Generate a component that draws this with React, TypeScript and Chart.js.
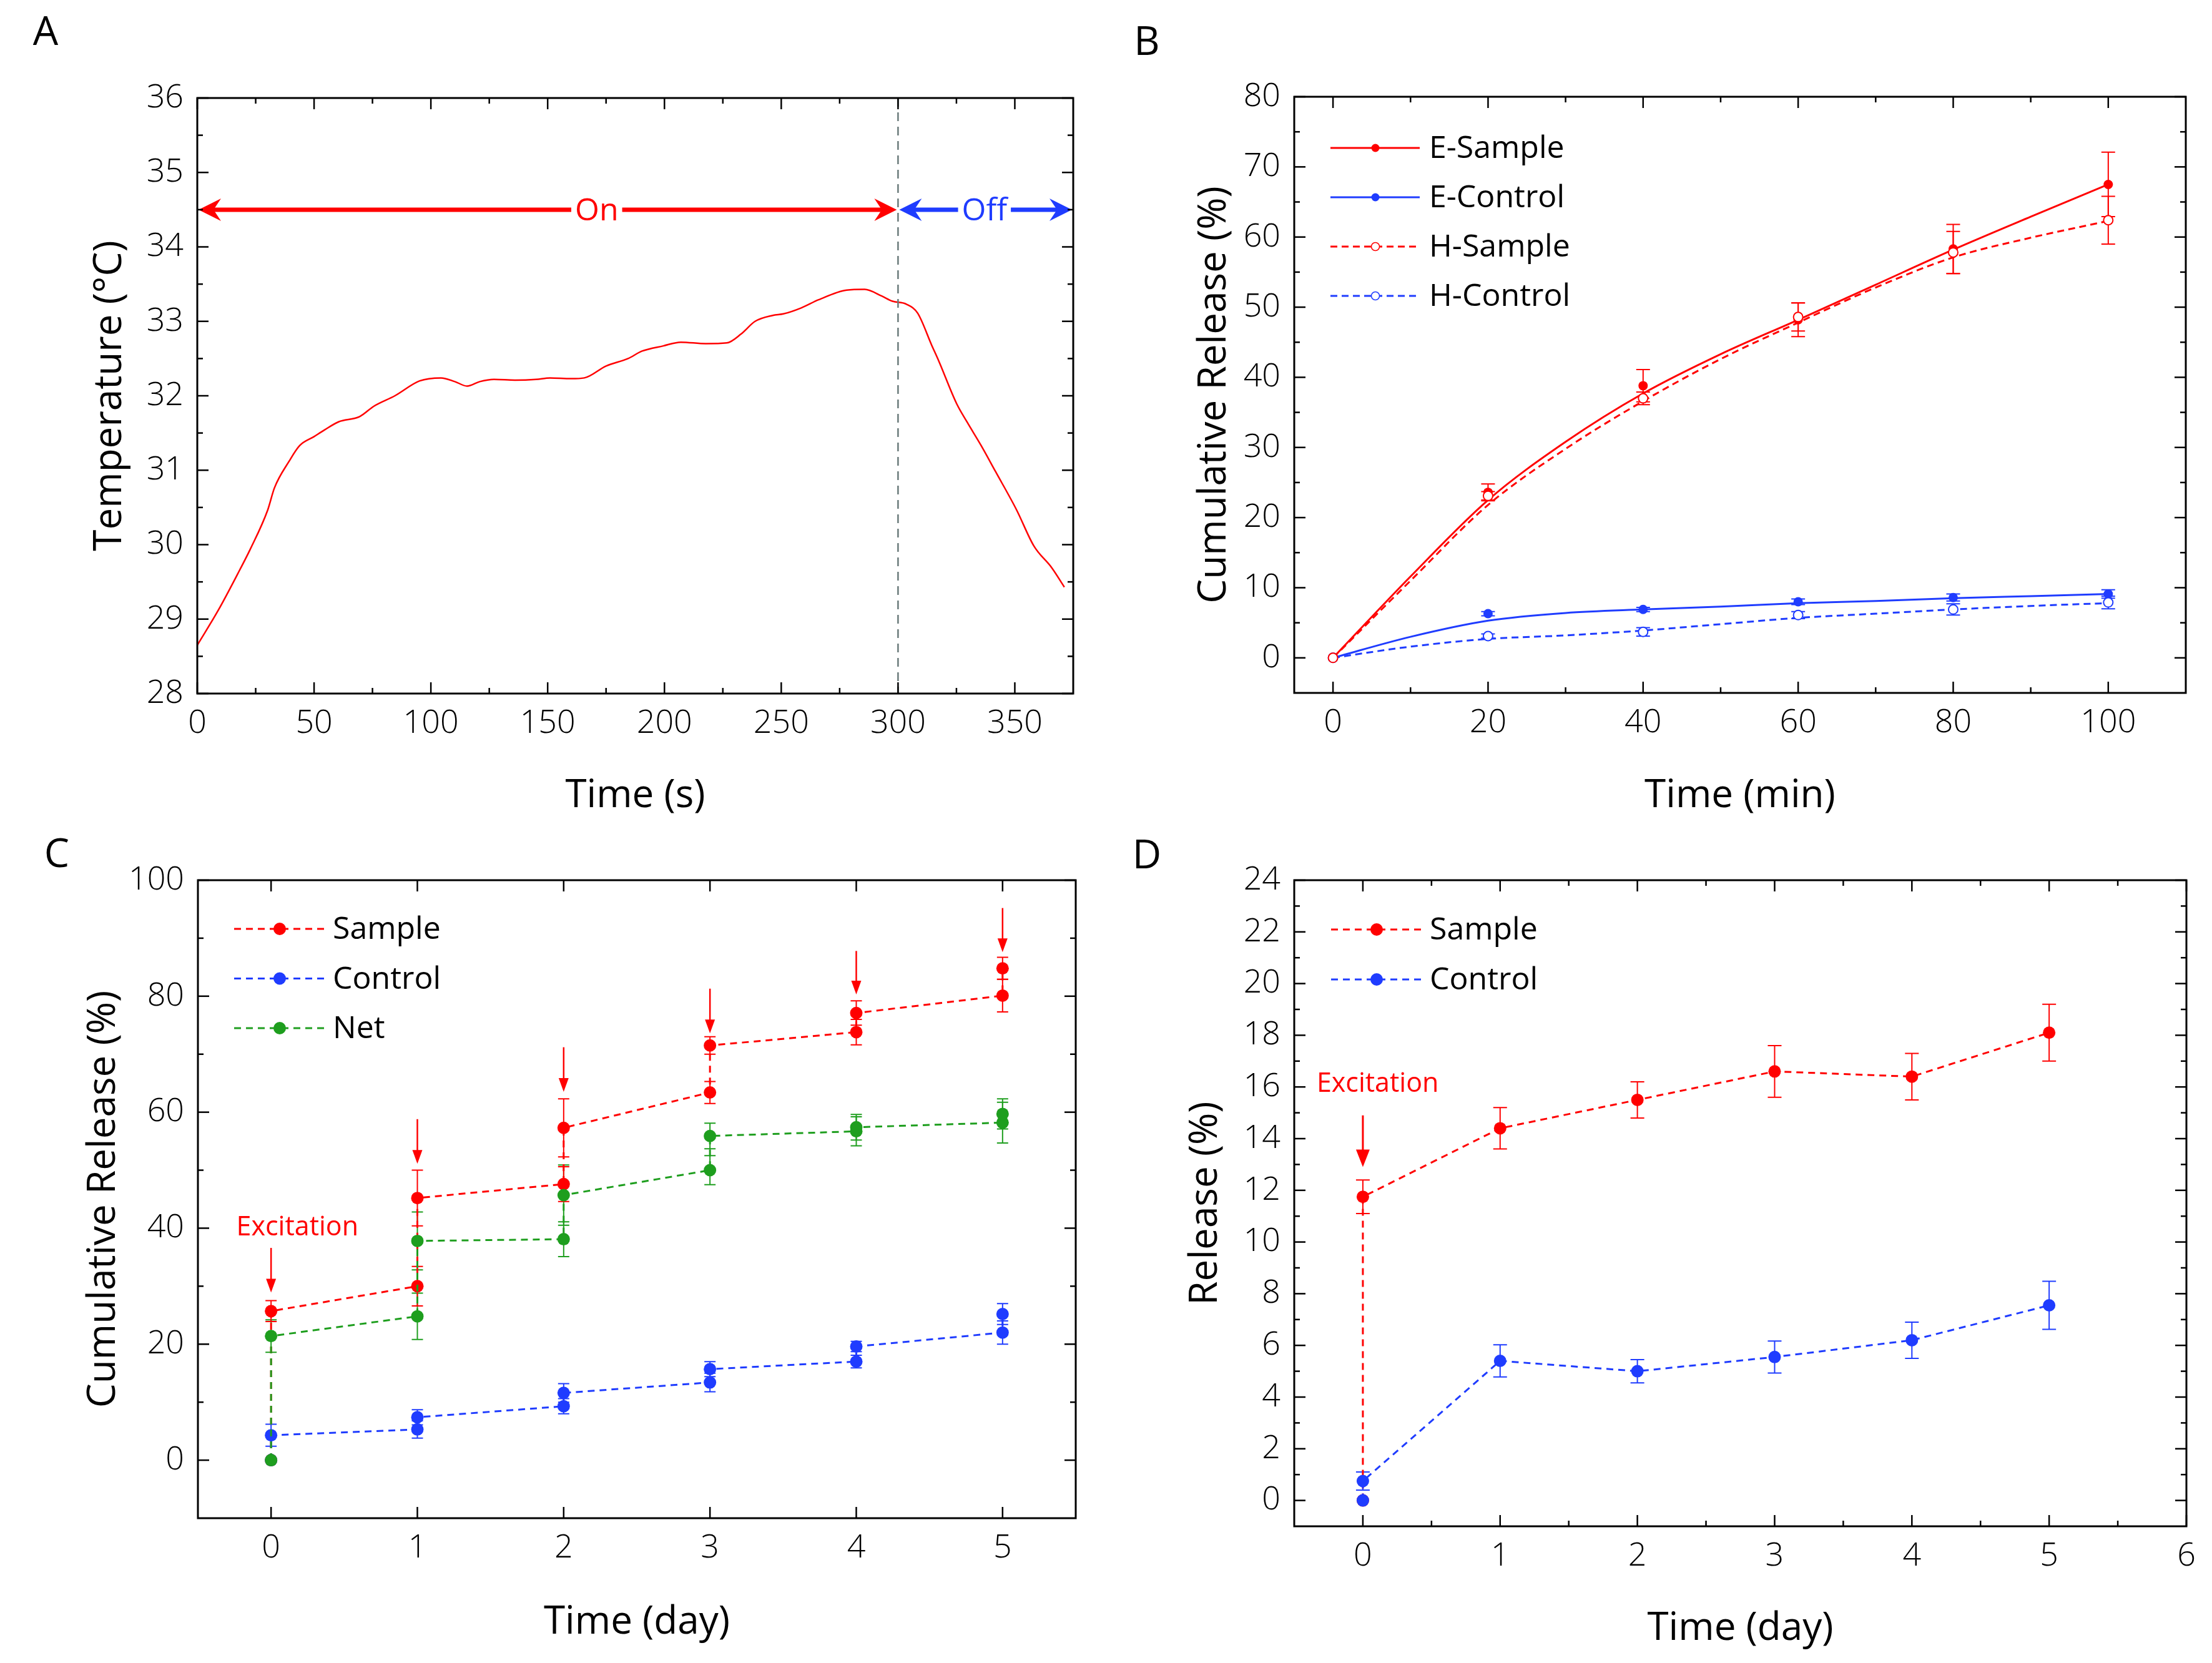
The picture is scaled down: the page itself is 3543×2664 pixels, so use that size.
import React, { useEffect, useRef } from 'react';
import { Chart, registerables } from 'chart.js';

Chart.register(...registerables);

// ================= Panel A : temperature profile =================
const timeA = [0, 9, 18, 22.7, 30.2, 33, 39.3, 43.8, 49.9, 54.4, 60.5, 69.5, 75.6, 84.6, 95.2, 104.3, 110.3, 115.5, 120.9, 127, 136, 145, 151, 160, 165.7, 175, 184.4, 190.4, 199.5, 207, 217.7, 226.7, 232.8, 238.8, 246.4, 250.9, 258.5, 266, 278, 285.7, 293, 297.6, 303.6, 308.4, 314.4, 317.4, 325, 329.5, 335.6, 341.6, 350.7, 358.2, 365.8, 371.2];
const tempA = [28.65, 29.12, 29.65, 29.94, 30.47, 30.76, 31.12, 31.33, 31.45, 31.54, 31.65, 31.72, 31.86, 32.0, 32.2, 32.24, 32.19, 32.13, 32.19, 32.22, 32.21, 32.22, 32.24, 32.23, 32.24, 32.4, 32.5, 32.6, 32.67, 32.72, 32.7, 32.71, 32.83, 33.0, 33.08, 33.1, 33.18, 33.29, 33.42, 33.43, 33.34, 33.27, 33.23, 33.11, 32.68, 32.47, 31.9, 31.65, 31.33, 30.99, 30.47, 29.98, 29.69, 29.43];
const switchTimeA = 300;
const endTimeA = 375;
const arrowLevelA = 34.5;
const onLabelTimeA = 171;
const offLabelTimeA = 337;
const xTicksA = [0, 50, 100, 150, 200, 250, 300, 350];
const yTicksA = [28, 29, 30, 31, 32, 33, 34, 35, 36];

// ================= Panel B : release in minutes =================
const timeB = [0, 20, 40, 60, 80, 100];
const eSampleB = [0, 23.6, 38.8, 48.2, 58.3, 67.5];
const eSampleErrB = [0, 1.2, 2.3, 2.4, 3.5, 4.6];
const eControlB = [0, 6.3, 6.9, 8.0, 8.6, 9.1];
const eControlErrB = [0, 0.3, 0.3, 0.4, 0.5, 0.6];
const hSampleB = [0, 23.1, 37.0, 48.6, 57.8, 62.4];
const hSampleErrB = [0, 0.6, 0.9, 2.0, 3.0, 3.4];
const hControlB = [0, 3.1, 3.7, 6.1, 6.9, 7.9];
const hControlErrB = [0, 0.3, 0.6, 0.5, 0.8, 0.9];
const fitTimeB = [0, 10, 20, 30, 40, 50, 60, 70, 80, 90, 100];
const eSampleFitB = [0, 11.6, 22.5, 30.8, 37.7, 43.3, 48.2, 53.2, 58.2, 62.9, 67.5];
const hSampleFitB = [0, 11.0, 21.8, 29.8, 36.6, 42.6, 47.8, 52.8, 57.1, 59.9, 62.3];
const eControlFitB = [0, 3.0, 5.3, 6.4, 6.9, 7.3, 7.8, 8.1, 8.5, 8.8, 9.1];
const hControlFitB = [0, 1.6, 2.7, 3.2, 3.9, 4.8, 5.7, 6.3, 6.9, 7.4, 7.8];
const xTicksB = [0, 20, 40, 60, 80, 100];
const yTicksB = [0, 10, 20, 30, 40, 50, 60, 70, 80];

// ================= Panel C : cumulative release per day =================
const dayC = [0, 0, 1, 1, 2, 2, 3, 3, 4, 4, 5, 5];
const sampleC = [0, 25.7, 30.0, 45.2, 47.6, 57.3, 63.4, 71.5, 73.8, 77.1, 80.1, 84.8];
const sampleErrC = [0, 1.8, 3.4, 4.8, 3.0, 5.0, 1.9, 1.5, 2.2, 2.1, 2.8, 1.9];
const controlC = [0, 4.3, 5.3, 7.4, 9.3, 11.6, 13.4, 15.7, 17.0, 19.6, 22.0, 25.2];
const controlErrC = [0, 1.9, 1.5, 1.3, 1.3, 1.6, 1.6, 1.3, 1.1, 0.9, 2.0, 1.8];
const netC = [0, 21.4, 24.8, 37.8, 38.1, 45.7, 50.0, 55.9, 56.7, 57.4, 58.2, 59.7];
const netErrC = [0, 2.8, 4.0, 5.0, 3.0, 5.2, 2.5, 2.2, 2.5, 2.2, 3.5, 2.6];
const arrowDaysC = [0, 1, 2, 3, 4, 5];
const arrowTopC = [36.6, 58.8, 71.2, 81.3, 87.8, 95.2];
const arrowTipC = [28.9, 51.1, 63.5, 73.6, 80.3, 87.6];
const excitationC = { day: 0.18, level: 40.1 };
const xTicksC = [0, 1, 2, 3, 4, 5];
const yTicksC = [0, 20, 40, 60, 80, 100];

// ================= Panel D : release per day =================
const dayD = [0, 0, 1, 2, 3, 4, 5];
const sampleD = [0, 11.75, 14.4, 15.5, 16.6, 16.4, 18.1];
const sampleErrD = [0, 0.65, 0.8, 0.7, 1.0, 0.9, 1.1];
const controlD = [0, 0.75, 5.4, 5.0, 5.55, 6.2, 7.55];
const controlErrD = [0, 0.35, 0.62, 0.45, 0.62, 0.7, 0.93];
const arrowD = { day: 0, top: 14.9, tip: 12.9 };
const excitationD = { day: 0.108, level: 16.1 };
const xTicksD = [0, 1, 2, 3, 4, 5, 6];
const yTicksD = [0, 2, 4, 6, 8, 10, 12, 14, 16, 18, 20, 22, 24];

// ================= styling =================
const RED = '#ff0000';
const BLUE = '#1f3cff';
const GREEN = '#1e9e1e';
const GRAY = '#6a7a7a';
const FAMILY = "'Open Sans', 'DejaVu Sans', sans-serif";
const TITLE_SIZE = 62;
const TITLE_LH = TITLE_SIZE * 1.2;
const TICK_FONT = { family: FAMILY, size: 52, weight: '300' };
const TITLE_FONT = { family: FAMILY, size: TITLE_SIZE, weight: '400' };

const pts = (xs: number[], ys: number[]) => xs.map((x, i) => ({ x, y: ys[i] }));

function line(ctx: CanvasRenderingContext2D, x1: number, y1: number, x2: number, y2: number) {
  ctx.beginPath();
  ctx.moveTo(x1, y1);
  ctx.lineTo(x2, y2);
  ctx.stroke();
}

function axis(o: { horizontal: boolean; min: number; max: number; ticks: number[]; title: string; size: number; titleOffset: number; tickPad: number }) {
  return {
    type: 'linear',
    min: o.min,
    max: o.max,
    afterBuildTicks: (s: any) => {
      s.ticks = o.ticks.map((v) => ({ value: v }));
    },
    afterFit: (s: any) => {
      if (o.horizontal) s.height = o.size;
      else s.width = o.size;
    },
    grid: { display: false, drawTicks: false },
    border: { display: false },
    ticks: {
      font: TICK_FONT,
      color: '#000',
      padding: o.tickPad,
      autoSkip: false,
      maxRotation: 0,
      minRotation: 0,
      includeBounds: false,
      callback: (v: any) => String(v),
    },
    title: {
      display: true,
      text: o.title,
      color: '#000',
      font: TITLE_FONT,
      padding: o.horizontal
        ? { top: 0, bottom: o.titleOffset - TITLE_LH / 2 }
        : { top: o.titleOffset - TITLE_LH / 2, bottom: 0 },
    },
  };
}

function framePlugin(xMinor: number, yMinor: number) {
  return {
    id: 'frameTicks',
    afterDraw(chart: any) {
      const { ctx, chartArea: a } = chart;
      const xs = chart.scales.x;
      const ys = chart.scales.y;
      ctx.save();
      ctx.strokeStyle = '#000';
      ctx.lineWidth = 2.5;
      const MAJ = 18;
      const MIN = 9;
      const xMaj = xs.ticks.map((t: any) => t.value);
      const yMaj = ys.ticks.map((t: any) => t.value);
      const isMaj = (arr: number[], v: number) => arr.some((m) => Math.abs(m - v) < 1e-6);
      const minorVals = (min: number, max: number, step: number, majors: number[]) => {
        const out: number[] = [];
        const n0 = Math.ceil(min / step - 1e-9);
        const n1 = Math.floor(max / step + 1e-9);
        for (let n = n0; n <= n1; n++) {
          const v = n * step;
          if (Math.abs(v - min) < 1e-9 || Math.abs(v - max) < 1e-9) continue;
          if (!isMaj(majors, v)) out.push(v);
        }
        return out;
      };
      const tx = (v: number, len: number) => {
        const p = xs.getPixelForValue(v);
        line(ctx, p, a.bottom, p, a.bottom - len);
        line(ctx, p, a.top, p, a.top + len);
      };
      const ty = (v: number, len: number) => {
        const p = ys.getPixelForValue(v);
        line(ctx, a.left, p, a.left + len, p);
        line(ctx, a.right, p, a.right - len, p);
      };
      xMaj.forEach((v: number) => tx(v, MAJ));
      yMaj.forEach((v: number) => ty(v, MAJ));
      if (xMinor) minorVals(xs.min, xs.max, xMinor, xMaj).forEach((v) => tx(v, MIN));
      if (yMinor) minorVals(ys.min, ys.max, yMinor, yMaj).forEach((v) => ty(v, MIN));
      ctx.lineWidth = 3;
      ctx.strokeRect(a.left, a.top, a.right - a.left, a.bottom - a.top);
      ctx.restore();
    },
  };
}

const errorBarPlugin = {
  id: 'errorBars',
  beforeDatasetsDraw(chart: any) {
    const ctx = chart.ctx;
    const ys = chart.scales.y;
    chart.data.datasets.forEach((ds: any, i: number) => {
      const errs = ds.errorBars;
      if (!errs) return;
      const meta = chart.getDatasetMeta(i);
      ctx.save();
      ctx.strokeStyle = ds.errorColor || ds.borderColor;
      ctx.lineWidth = ds.errorWidth || 2;
      const cap = ds.errorCap || 9;
      meta.data.forEach((el: any, j: number) => {
        const e = errs[j];
        if (!e) return;
        const raw = ds.data[j];
        const yv = typeof raw === 'number' ? raw : raw.y;
        const x = el.x;
        const y1 = ys.getPixelForValue(yv + e);
        const y2 = ys.getPixelForValue(yv - e);
        ctx.beginPath();
        ctx.moveTo(x, y1);
        ctx.lineTo(x, y2);
        ctx.moveTo(x - cap, y1);
        ctx.lineTo(x + cap, y1);
        ctx.moveTo(x - cap, y2);
        ctx.lineTo(x + cap, y2);
        ctx.stroke();
      });
      ctx.restore();
    });
  },
};

type LegendItem = { label: string; color: string; dash: number[]; open: boolean };
function legendPlugin(o: { items: LegendItem[]; x0: number; x1: number; xm: number; xt: number; y0: number; dy: number; r: number; lw: number; size: number }) {
  return {
    id: 'boxLegend',
    afterDraw(chart: any) {
      const { ctx, chartArea: a } = chart;
      o.items.forEach((it, k) => {
        const y = a.top + o.y0 + k * o.dy;
        ctx.save();
        ctx.strokeStyle = it.color;
        ctx.lineWidth = o.lw;
        ctx.setLineDash(it.dash);
        line(ctx, a.left + o.x0, y, a.left + o.x1, y);
        ctx.setLineDash([]);
        ctx.beginPath();
        ctx.arc(a.left + o.xm, y, o.r, 0, Math.PI * 2);
        ctx.fillStyle = it.open ? '#fff' : it.color;
        ctx.fill();
        if (it.open) {
          ctx.lineWidth = 1.5;
          ctx.stroke();
        }
        ctx.fillStyle = '#000';
        ctx.font = `${o.size}px ${FAMILY}`;
        ctx.textAlign = 'left';
        ctx.textBaseline = 'middle';
        ctx.fillText(it.label, a.left + o.xt, y + 2);
        ctx.restore();
      });
    },
  };
}

function letterPlugin(letter: string, x: number, y: number) {
  return {
    id: 'panelLetter',
    afterDraw(chart: any) {
      const ctx = chart.ctx;
      ctx.save();
      ctx.fillStyle = '#000';
      ctx.font = `64px ${FAMILY}`;
      ctx.textAlign = 'center';
      ctx.textBaseline = 'middle';
      ctx.fillText(letter, x, y + 4);
      ctx.restore();
    },
  };
}

function downArrow(ctx: CanvasRenderingContext2D, x: number, yTop: number, yTip: number, lw: number, headLen: number, headHalf: number, color: string) {
  ctx.save();
  ctx.strokeStyle = color;
  ctx.fillStyle = color;
  ctx.lineWidth = lw;
  line(ctx, x, yTop, x, yTip - headLen + 2);
  ctx.beginPath();
  ctx.moveTo(x, yTip);
  ctx.lineTo(x - headHalf, yTip - headLen);
  ctx.lineTo(x + headHalf, yTip - headLen);
  ctx.closePath();
  ctx.fill();
  ctx.restore();
}

function stealthHead(ctx: CanvasRenderingContext2D, tipX: number, y: number, dir: number) {
  const L = 36;
  const W = 18;
  const N = 12;
  ctx.beginPath();
  ctx.moveTo(tipX, y);
  ctx.lineTo(tipX - dir * L, y - W);
  ctx.lineTo(tipX - dir * (L - N), y);
  ctx.lineTo(tipX - dir * L, y + W);
  ctx.closePath();
  ctx.fill();
}

function boxedText(ctx: CanvasRenderingContext2D, text: string, cx: number, cy: number, color: string, size: number) {
  ctx.save();
  ctx.font = `${size}px ${FAMILY}`;
  const w = ctx.measureText(text).width;
  ctx.fillStyle = '#fff';
  ctx.fillRect(cx - w / 2 - 6, cy - size * 0.45, w + 12, size * 0.9);
  ctx.fillStyle = color;
  ctx.textAlign = 'center';
  ctx.textBaseline = 'middle';
  ctx.fillText(text, cx, cy + 3);
  ctx.restore();
}

const annotationA = {
  id: 'annotA',
  afterDatasetsDraw(chart: any) {
    const { ctx, chartArea: a } = chart;
    const xs = chart.scales.x;
    const ys = chart.scales.y;
    const xSw = xs.getPixelForValue(switchTimeA);
    const x0 = xs.getPixelForValue(0);
    const x1 = xs.getPixelForValue(endTimeA);
    const y = ys.getPixelForValue(arrowLevelA);
    ctx.save();
    ctx.strokeStyle = GRAY;
    ctx.lineWidth = 2.5;
    ctx.setLineDash([14, 9]);
    line(ctx, xSw, a.top, xSw, a.bottom);
    ctx.setLineDash([]);
    ctx.lineWidth = 7;
    ctx.strokeStyle = RED;
    ctx.fillStyle = RED;
    line(ctx, x0 + 20, y, xSw - 20, y);
    stealthHead(ctx, x0 + 2, y, -1);
    stealthHead(ctx, xSw - 2, y, 1);
    ctx.strokeStyle = BLUE;
    ctx.fillStyle = BLUE;
    line(ctx, xSw + 20, y, x1 - 20, y);
    stealthHead(ctx, xSw + 2, y, -1);
    stealthHead(ctx, x1 - 2, y, 1);
    ctx.restore();
    boxedText(ctx, 'On', xs.getPixelForValue(onLabelTimeA), y, RED, 50);
    boxedText(ctx, 'Off', xs.getPixelForValue(offLabelTimeA), y, BLUE, 50);
  },
};

const annotationC = {
  id: 'annotC',
  afterDatasetsDraw(chart: any) {
    const { ctx } = chart;
    const xs = chart.scales.x;
    const ys = chart.scales.y;
    arrowDaysC.forEach((d, i) => {
      downArrow(ctx, xs.getPixelForValue(d), ys.getPixelForValue(arrowTopC[i]), ys.getPixelForValue(arrowTipC[i]), 2.5, 22, 8, RED);
    });
    ctx.save();
    ctx.fillStyle = RED;
    ctx.font = `43px ${FAMILY}`;
    ctx.textAlign = 'center';
    ctx.textBaseline = 'middle';
    ctx.fillText('Excitation', xs.getPixelForValue(excitationC.day), ys.getPixelForValue(excitationC.level));
    ctx.restore();
  },
};

const annotationD = {
  id: 'annotD',
  afterDatasetsDraw(chart: any) {
    const { ctx } = chart;
    const xs = chart.scales.x;
    const ys = chart.scales.y;
    downArrow(ctx, xs.getPixelForValue(arrowD.day), ys.getPixelForValue(arrowD.top), ys.getPixelForValue(arrowD.tip), 3, 28, 11, RED);
    ctx.save();
    ctx.fillStyle = RED;
    ctx.font = `43px ${FAMILY}`;
    ctx.textAlign = 'center';
    ctx.textBaseline = 'middle';
    ctx.fillText('Excitation', xs.getPixelForValue(excitationD.day), ys.getPixelForValue(excitationD.level));
    ctx.restore();
  },
};

const baseOptions = (padding: any) => ({
  responsive: false,
  animation: false,
  devicePixelRatio: 1,
  layout: { padding },
  plugins: { legend: { display: false }, tooltip: { enabled: false } },
});

function buildA(): any {
  return {
    type: 'line',
    data: {
      datasets: [
        {
          data: pts(timeA, tempA),
          borderColor: RED,
          borderWidth: 2.5,
          pointRadius: 0,
          cubicInterpolationMode: 'monotone',
          fill: false,
        },
      ],
    },
    options: {
      ...baseOptions({ top: 157, right: 52, bottom: 0, left: 0 }),
      scales: {
        x: axis({ horizontal: true, min: 0, max: endTimeA, ticks: xTicksA, title: 'Time (s)', size: 221, titleOffset: 57, tickPad: 17 }),
        y: axis({ horizontal: false, min: 28, max: 36, ticks: yTicksA, title: 'Temperature (°C)', size: 316, titleOffset: 176, tickPad: 22 }),
      },
    },
    plugins: [annotationA, framePlugin(25, 0.5), letterPlugin('A', 73, 50)],
  };
}

function buildB(): any {
  const ptSet = (label: string, ys: number[], errs: number[], color: string, open: boolean) => ({
    label,
    data: pts(timeB, ys),
    showLine: false,
    borderColor: color,
    pointRadius: 7.5,
    pointBackgroundColor: open ? '#fff' : color,
    pointBorderColor: color,
    pointBorderWidth: open ? 2 : 0,
    errorBars: errs,
    errorCap: 11,
    errorWidth: 2,
  });
  const fitSet = (ys: number[], color: string, dash: number[]) => ({
    data: pts(fitTimeB, ys),
    borderColor: color,
    borderWidth: 3,
    borderDash: dash,
    pointRadius: 0,
    cubicInterpolationMode: 'monotone',
    fill: false,
  });
  return {
    type: 'line',
    data: {
      datasets: [
        ptSet('H-Sample', hSampleB, hSampleErrB, RED, true),
        ptSet('E-Sample', eSampleB, eSampleErrB, RED, false),
        ptSet('H-Control', hControlB, hControlErrB, BLUE, true),
        ptSet('E-Control', eControlB, eControlErrB, BLUE, false),
        fitSet(eSampleFitB, RED, []),
        fitSet(hSampleFitB, RED, [11, 7]),
        fitSet(eControlFitB, BLUE, []),
        fitSet(hControlFitB, BLUE, [11, 7]),
      ],
    },
    options: {
      ...baseOptions({ top: 155, right: 42, bottom: 0, left: 0 }),
      scales: {
        x: axis({ horizontal: true, min: -5, max: 110, ticks: xTicksB, title: 'Time (min)', size: 222, titleOffset: 57, tickPad: 17 }),
        y: axis({ horizontal: false, min: -5, max: 80, ticks: yTicksB, title: 'Cumulative Release (%)', size: 302, titleOffset: 174, tickPad: 22 }),
      },
    },
    plugins: [
      errorBarPlugin,
      framePlugin(10, 5),
      legendPlugin({
        items: [
          { label: 'E-Sample', color: RED, dash: [], open: false },
          { label: 'E-Control', color: BLUE, dash: [], open: false },
          { label: 'H-Sample', color: RED, dash: [11, 7], open: true },
          { label: 'H-Control', color: BLUE, dash: [11, 7], open: true },
        ],
        x0: 58, x1: 201, xm: 130, xt: 216, y0: 82, dy: 79, r: 6.5, lw: 3, size: 50,
      }),
      letterPlugin('B', 66, 66),
    ],
  };
}

function dashedSet(label: string, xs: number[], ys: number[], errs: number[], color: string, r: number, cap: number) {
  return {
    label,
    data: pts(xs, ys),
    borderColor: color,
    borderWidth: 3,
    borderDash: [11, 8],
    pointRadius: r,
    pointBackgroundColor: color,
    pointBorderWidth: 0,
    tension: 0,
    fill: false,
    errorBars: errs,
    errorCap: cap,
    errorWidth: 2,
  };
}

function buildC(): any {
  return {
    type: 'line',
    data: {
      datasets: [
        dashedSet('Net', dayC, netC, netErrC, GREEN, 10, 9),
        dashedSet('Control', dayC, controlC, controlErrC, BLUE, 10, 9),
        dashedSet('Sample', dayC, sampleC, sampleErrC, RED, 10, 9),
      ],
    },
    options: {
      ...baseOptions({ top: 78, right: 48, bottom: 0, left: 0 }),
      scales: {
        x: axis({ horizontal: true, min: -0.5, max: 5.5, ticks: xTicksC, title: 'Time (day)', size: 232, titleOffset: 65, tickPad: 17 }),
        y: axis({ horizontal: false, min: -10, max: 100, ticks: yTicksC, title: 'Cumulative Release (%)', size: 317, titleOffset: 166, tickPad: 22 }),
      },
    },
    plugins: [
      errorBarPlugin,
      annotationC,
      framePlugin(0, 10),
      legendPlugin({
        items: [
          { label: 'Sample', color: RED, dash: [11, 8], open: false },
          { label: 'Control', color: BLUE, dash: [11, 8], open: false },
          { label: 'Net', color: GREEN, dash: [11, 8], open: false },
        ],
        x0: 58, x1: 206, xm: 131, xt: 216, y0: 78, dy: 79.5, r: 10, lw: 3, size: 50,
      }),
      letterPlugin('C', 91, 35),
    ],
  };
}

function buildD(): any {
  return {
    type: 'line',
    data: {
      datasets: [
        dashedSet('Control', dayD, controlD, controlErrD, BLUE, 10, 11),
        dashedSet('Sample', dayD, sampleD, sampleErrD, RED, 10, 11),
      ],
    },
    options: {
      ...baseOptions({ top: 78, right: 41, bottom: 0, left: 0 }),
      scales: {
        x: axis({ horizontal: true, min: -0.5, max: 6, ticks: xTicksD, title: 'Time (day)', size: 219, titleOffset: 55, tickPad: 17 }),
        y: axis({ horizontal: false, min: -1, max: 24, ticks: yTicksD, title: 'Release (%)', size: 302, titleOffset: 160, tickPad: 22 }),
      },
    },
    plugins: [
      errorBarPlugin,
      annotationD,
      framePlugin(0.5, 1),
      legendPlugin({
        items: [
          { label: 'Sample', color: RED, dash: [11, 8], open: false },
          { label: 'Control', color: BLUE, dash: [11, 8], open: false },
        ],
        x0: 59, x1: 203, xm: 132, xt: 217, y0: 79, dy: 80, r: 10, lw: 3, size: 50,
      }),
      letterPlugin('D', 66, 37),
    ],
  };
}

type Rect = { left: number; top: number; width: number; height: number };

function Panel({ rect, build }: { rect: Rect; build: () => any }) {
  const ref = useRef<HTMLCanvasElement | null>(null);
  useEffect(() => {
    const c = ref.current;
    if (!c) return;
    const chart = new Chart(c, build());
    return () => chart.destroy();
  }, []);
  return (
    <canvas
      ref={ref}
      width={rect.width}
      height={rect.height}
      style={{ position: 'absolute', left: rect.left, top: rect.top, width: rect.width, height: rect.height, display: 'block' }}
    />
  );
}

export default function App() {
  return (
    <div style={{ position: 'absolute', left: 0, top: 0, width: 3543, height: 2664, background: '#fff', overflow: 'hidden' }}>
      <Panel rect={{ left: 0, top: 0, width: 1771, height: 1332 }} build={buildA} />
      <Panel rect={{ left: 1771, top: 0, width: 1772, height: 1332 }} build={buildB} />
      <Panel rect={{ left: 0, top: 1332, width: 1771, height: 1332 }} build={buildC} />
      <Panel rect={{ left: 1771, top: 1332, width: 1772, height: 1332 }} build={buildD} />
    </div>
  );
}
